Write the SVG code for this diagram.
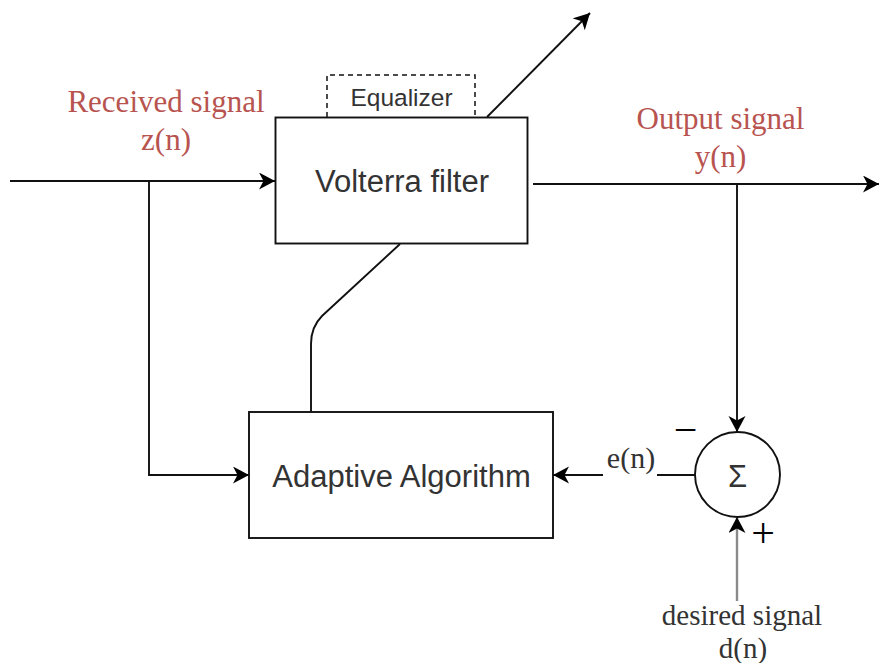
<svg xmlns="http://www.w3.org/2000/svg" width="879" height="663" viewBox="0 0 879 663">
<defs>
<style>
.box{fill:#fff;stroke:#111;stroke-width:1.9}
.ln{fill:none;stroke:#111;stroke-width:1.9}
.sans{font-family:"Liberation Sans",Arial,sans-serif;fill:#333;text-anchor:middle}
.serif{font-family:"Liberation Serif","Times New Roman",serif;text-anchor:middle}
.red{fill:#b85450}
.dark{fill:#333}
</style>
<marker id="arr" markerUnits="userSpaceOnUse" markerWidth="18" markerHeight="18" refX="16" refY="8.5" orient="auto" viewBox="0 0 18 18">
<path d="M0,0 L16,8.5 L0,17 L4.5,8.5 Z" fill="#000"/>
</marker>
</defs>
<rect width="879" height="663" fill="#fff"/>
<g id="connectors">
<path class="ln" d="M10,181 H275" marker-end="url(#arr)"/>
<path class="ln" d="M149,181 V475 H249" marker-end="url(#arr)"/>
<path class="ln" d="M487,117 L590,13" marker-end="url(#arr)"/>
<path class="ln" d="M533,184 H879" marker-end="url(#arr)"/>
<path class="ln" d="M737,184 V432" marker-end="url(#arr)"/>
<path class="ln" d="M400,244 L322,316 Q311,327 311,344 V412"/>
<path class="ln" d="M695,475 H657 M603,475 H553" marker-end="url(#arr)"/>
<path class="ln" d="M737,601 V517" style="stroke:#8a8a8a;stroke-width:2.4" marker-end="url(#arr)"/>
</g>
<g id="equalizer">
<path d="M327,117 V75 H475 V117" fill="none" stroke="#111" stroke-width="1.5" stroke-dasharray="5,4"/>
<text class="sans" x="401.5" y="105.5" font-size="24.5">Equalizer</text>
</g>
<g id="volterra">
<rect class="box" x="275.5" y="117.5" width="252" height="126"/>
<text class="sans" x="402" y="192" font-size="31">Volterra filter</text>
</g>
<g id="adaptive">
<rect class="box" x="249" y="412" width="304" height="126"/>
<text class="sans" x="401.5" y="487" font-size="31">Adaptive Algorithm</text>
</g>
<g id="sum">
<circle cx="737.5" cy="474.5" r="42.5" fill="#fff" stroke="#111" stroke-width="1.9"/>
<text class="sans" x="737.5" y="487" font-size="31">Σ</text>
</g>
<g id="labels">
<text class="serif red" x="166" y="112" font-size="31">Received signal</text>
<text class="serif red" x="166" y="150" font-size="31">z(n)</text>
<text class="serif red" x="720.5" y="129" font-size="31">Output signal</text>
<text class="serif red" x="720.5" y="167" font-size="31">y(n)</text>
<text class="serif dark" x="631" y="468" font-size="30">e(n)</text>
<text class="serif dark" x="742" y="625" font-size="29">desired signal</text>
<text class="serif dark" x="743" y="658" font-size="29">d(n)</text>
<text class="serif" x="685.5" y="443.5" font-size="42" fill="#000">−</text>
<text class="serif" x="763" y="546.5" font-size="42" fill="#000">+</text>
</g>
</svg>
